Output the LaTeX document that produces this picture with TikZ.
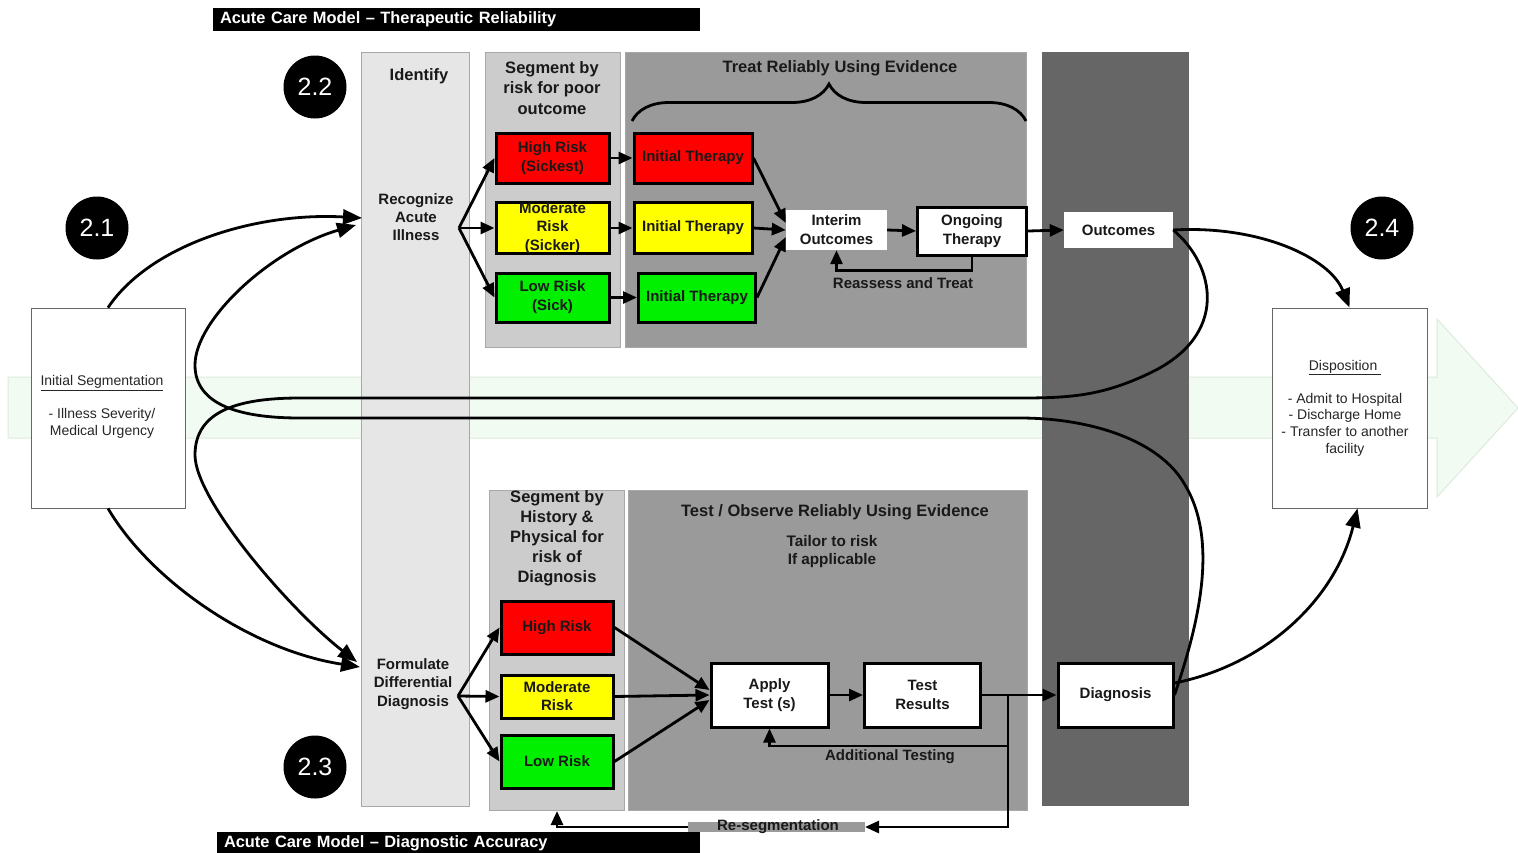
\documentclass[tikz,border=0pt]{standalone}
\usepackage{fontspec}
\setmainfont{Liberation Sans}
\usetikzlibrary{arrows.meta,decorations.pathreplacing,calc}
\definecolor{idcol}{HTML}{E6E6E6}
\definecolor{segcol}{HTML}{CCCCCC}
\definecolor{trtcol}{HTML}{9A9A9A}
\definecolor{dkcol}{HTML}{666666}
\definecolor{bandfill}{HTML}{F2FBF2}
\definecolor{bandline}{HTML}{DCEBDC}
\definecolor{rred}{HTML}{FF0000}
\definecolor{ryel}{HTML}{FFFF00}
\definecolor{rgrn}{HTML}{00F000}
\definecolor{edgegray}{HTML}{A8A8A8}
\tikzset{
  lbl/.style={font=\bfseries\fontsize{15}{19}\selectfont, align=center, inner sep=0pt, text=black!90},
  hd/.style={lbl, font=\bfseries\fontsize{16.5}{20.5}\selectfont},
  riskbox/.style={draw=black, line width=3pt, minimum width=113pt, minimum height=50pt, inner sep=0pt},
  whitebox/.style={lbl, fill=white, draw=black, line width=3pt},
  plainbox/.style={lbl, fill=white},
  conn/.style={line width=2.8pt, -{Triangle[length=14pt,width=12pt]}},
  bigconn/.style={line width=2.8pt, -{Triangle[length=19pt,width=15pt]}},
  badge/.style={circle, fill=black, text=white, minimum size=63pt, inner sep=0pt, font=\fontsize{25}{25}\selectfont},
  bar/.style={fill=black, text=white, font=\bfseries\fontsize{16.4}{16.4}\selectfont, inner xsep=7pt, inner ysep=0pt, minimum height=23pt, align=left},
  infobox/.style={draw=gray!80!black, line width=0.8pt, fill=white, minimum width=154pt, minimum height=200pt, inner sep=0pt},
  infotext/.style={align=center, font=\fontsize{14}{16.6}\selectfont, inner sep=0pt, text=black!85},
  column/.style={draw=edgegray, line width=0.8pt}
}
\begin{document}
\begin{tikzpicture}[x=1pt,y=-1pt]
\useasboundingbox (0,0) rectangle (1518,852);
\fill[white] (0,0) rectangle (1518,852);
% green flow arrow
\path[fill=bandfill, draw=bandline, line width=1pt] (8,377) -- (1437,377) -- (1437,319) -- (1518,408) -- (1437,497) -- (1437,438) -- (8,438) -- cycle;
% columns
\path[column, fill=idcol] (361,52) rectangle (469,806);
\path[column, fill=segcol] (485,52) rectangle (620,347);
\path[column, fill=trtcol] (625,52) rectangle (1026,347);
\path[fill=dkcol] (1042,52) rectangle (1189,806);
\path[column, fill=segcol] (489,490) rectangle (624,810);
\path[column, fill=trtcol] (628,490) rectangle (1027,810);
% headings
\node[hd] (identT) at (419,76) {Identify};
\node[lbl, font=\bfseries\fontsize{15}{18}\selectfont] (recog) at (416,217) {Recognize\\Acute\\Illness};
\node[lbl, font=\bfseries\fontsize{15}{18.5}\selectfont] (form) at (413,684) {Formulate\\Differential\\Diagnosis};
\node[hd] (segT) at (552,88) {Segment by\\risk for poor\\outcome};
\node[hd] (treatT) at (840,68) {Treat Reliably Using Evidence};
\node[hd, font=\bfseries\fontsize{16.5}{20}\selectfont] (segB) at (557,538) {Segment by\\History \&\\Physical for\\risk of\\Diagnosis};
\node[hd] (testT) at (835,512) {Test / Observe Reliably Using Evidence};
\node[lbl, font=\bfseries\fontsize{15.3}{18}\selectfont] (tailor) at (832,552) {Tailor to risk\\If applicable};
% brace
\draw[line width=2.8pt, decorate, decoration={brace, amplitude=37pt}] (632,121) -- (1026,121);
% top risk boxes
\node[riskbox, fill=rred] (hr1) at (552.5,158) {};
\node[lbl] (hr1t) at (hr1) {High Risk\\(Sickest)};
\node[riskbox, fill=ryel, minimum height=51pt] (mr1) at (552.5,228) {};
\node[lbl, font=\bfseries\fontsize{15}{18.5}\selectfont] (mr1t) at (mr1) {Moderate\\Risk\\(Sicker)};
\node[riskbox, fill=rgrn, minimum height=49pt] (lr1) at (552.5,297.5) {};
\node[lbl] (lr1t) at (lr1) {Low Risk\\(Sick)};
\node[riskbox, fill=rred, minimum width=118pt] (it1) at (693,158) {};
\node[lbl] (it1t) at (it1) {Initial Therapy};
\node[riskbox, fill=ryel, minimum width=118pt, minimum height=51pt] (it2) at (693,228) {};
\node[lbl] (it2t) at (it2) {Initial Therapy};
\node[riskbox, fill=rgrn, minimum width=117pt, minimum height=49pt] (it3) at (697,297.5) {};
\node[lbl] (it3t) at (it3) {Initial Therapy};
\node[plainbox, minimum width=101pt, minimum height=40pt] (io) at (836.5,230) {Interim\\Outcomes};
\node[whitebox, minimum width=109pt, minimum height=48pt] (ot) at (972,231) {Ongoing\\Therapy};
\node[plainbox, minimum width=109pt, minimum height=36pt] (oc) at (1118.5,230) {Outcomes};
\node[lbl] (reas) at (903,283) {Reassess and Treat};
% bottom risk boxes
\node[riskbox, fill=rred, minimum width=112pt, minimum height=53pt] (hr2) at (557,627.5) {};
\node[lbl] (hr2t) at (hr2) {High Risk};
\node[riskbox, fill=ryel, minimum width=112pt, minimum height=43pt] (mr2) at (557,696.5) {};
\node[lbl, font=\bfseries\fontsize{15}{18}\selectfont] (mr2t) at (mr2) {Moderate\\Risk};
\node[riskbox, fill=rgrn, minimum width=112pt, minimum height=53pt] (lr2) at (557,761.5) {};
\node[lbl] (lr2t) at (lr2) {Low Risk};
\node[whitebox, minimum width=117pt, minimum height=64pt] (apply) at (769.5,695) {Apply\\Test (s)};
\node[whitebox, minimum width=116pt, minimum height=64pt] (tr) at (922.5,695) {Test\\Results};
\node[whitebox, minimum width=115pt, minimum height=64pt] (dg) at (1115.5,695) {Diagnosis};
\node[lbl] (addT) at (890,757) {Additional Testing};
\fill[trtcol] (688,822) rectangle (865,832);
\node[lbl] (reseg) at (778,826.5) {Re-segmentation};
% side boxes
\node[infobox] (iseg) at (108,408) {};
\node[infotext] (isegt) at (102,407) {\underline{Initial Segmentation}\\[16.6pt]- Illness Severity/\\Medical Urgency};
\node[infobox, minimum width=155pt] (disp) at (1349.5,408) {};
\node[infotext] (dispt) at (1345,408) {\underline{Disposition\ }\\[16.6pt]- Admit to Hospital\\- Discharge Home\\- Transfer to another\\facility};
% coordinates
\coordinate (fkT) at (459,228);
\coordinate (fkB) at (458,696);
\coordinate (recTipA) at (362,218);
\coordinate (recTipB) at (356,225);
\coordinate (forTipA) at (360,667);
\coordinate (forTipB) at (357,662);
\coordinate (jx) at (1008,695);
\coordinate (rsR) at (865,827);
\coordinate (rsL) at (688,827);
\coordinate (segBot) at (557,811);
% top connectors
\draw[conn] (fkT) -- (hr1.west);
\draw[conn] (fkT) -- (mr1.west);
\draw[conn] (fkT) -- (lr1.west);
\draw[conn] (hr1.east) -- (it1.west);
\draw[conn] (mr1.east) -- (it2.west);
\draw[conn] (lr1.east) -- (it3.west);
\draw[conn] (it1.east) -- ($(io.west)+(0,-7)$);
\draw[conn] (it2.east) -- (io.west);
\draw[conn] (it3.east) -- ($(io.west)+(0,7)$);
\draw[conn] (io.east) -- (ot.west);
\draw[conn] (ot.east) -- (oc.west);
\draw[conn] (ot.south) -- ++(0,14) -| (io.south);
% bottom connectors
\draw[conn] (fkB) -- (hr2.west);
\draw[conn] (fkB) -- (mr2.west);
\draw[conn] (fkB) -- (lr2.west);
\draw[conn] (hr2.east) -- ($(apply.west)+(0,-5)$);
\draw[conn] (mr2.east) -- (apply.west);
\draw[conn] (lr2.east) -- ($(apply.west)+(0,5)$);
\draw[conn] (apply.east) -- (tr.west);
\draw[conn] (tr.east) -- (dg.west);
\draw[conn] (jx) -- (1008,746) -| (apply.south);
\draw[conn] (jx) |- (rsR);
\draw[conn] (rsL) -| (segBot);
% long curves
\draw[bigconn] (iseg.north) .. controls (150,245) and (255,212) .. (recTipA);
\draw[bigconn] (iseg.south) .. controls (150,580) and (250,650) .. (forTipA);
\draw[bigconn] (oc.east) .. controls (1215,265) and (1230,335) .. (1150,373)
  .. controls (1102,396) and (1070,398) .. (1020,398) -- (300,398)
  .. controls (240,398) and (195,410) .. (195,455)
  .. controls (195,500) and (290,610) .. (forTipB);
\draw[bigconn] (dg.east) .. controls (1200,620) and (1218,540) .. (1185,485)
  .. controls (1160,440) and (1090,418) .. (1020,418) -- (300,418)
  .. controls (240,418) and (195,405) .. (195,365)
  .. controls (195,320) and (270,250) .. (recTipB);
\draw[bigconn] (oc.east) .. controls (1260,225) and (1330,258) .. (disp.north);
\draw[bigconn] ($(dg.east)+(0,-12)$) .. controls (1265,665) and (1335,600) .. ($(disp.south)+(8,0)$);
% badges
\node[badge] (b21) at (97,228) {2.1};
\node[badge] (b22) at (315,87) {2.2};
\node[badge] (b23) at (315,767) {2.3};
\node[badge] (b24) at (1382,228) {2.4};
% title bars
\node[bar, text width=473pt] (bar1) at (456.5,19.5) {Acute Care Model – Therapeutic Reliability};
\node[bar, text width=469pt] (bar2) at (458.5,843) {Acute Care Model – Diagnostic Accuracy};
\end{tikzpicture}
\end{document}
